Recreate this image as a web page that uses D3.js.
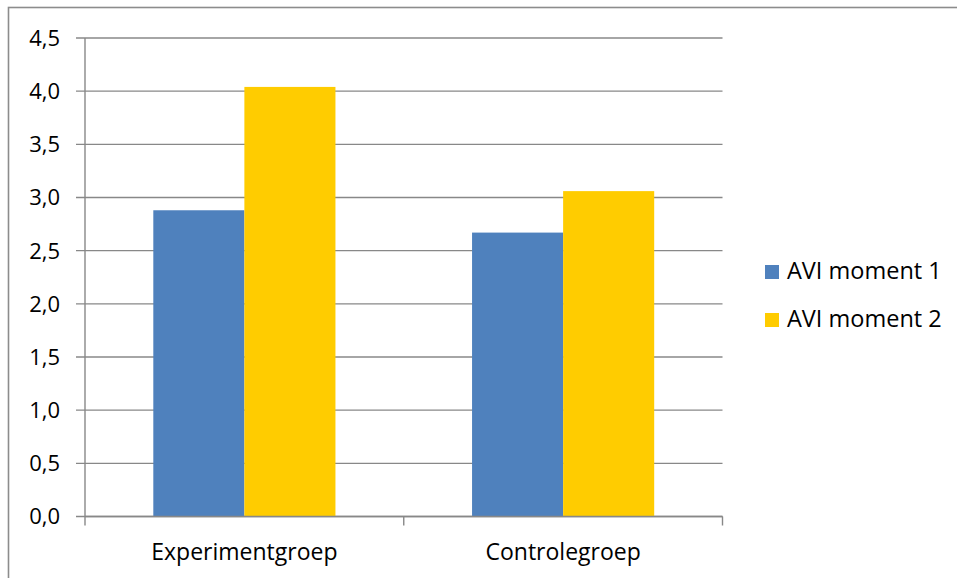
<!DOCTYPE html>
<html>
<head>
<meta charset="utf-8">
<script src="https://cdn.jsdelivr.net/npm/d3@7"></script>
<style>
  html, body { margin: 0; padding: 0; background: #fff; }
  svg { display: block; }
  text { font-family: "Open Sans", "Noto Sans", sans-serif; fill: #000; }
</style>
</head>
<body>
<svg id="chart" width="957" height="578"></svg>
<script>
// Reading scores per group, measured at two moments
const categories = ["Experimentgroep", "Controlegroep"];
const seriesNames = ["AVI moment 1", "AVI moment 2"];
const moment1 = [2.88, 2.67];
const moment2 = [4.04, 3.06];
const yTicks = [0, 0.5, 1, 1.5, 2, 2.5, 3, 3.5, 4, 4.5];
const colors = ["#4F81BD", "#FFCC00"];

const seriesValues = [moment1, moment2];
const rows = categories.map((c, i) => ({
  category: c,
  values: seriesNames.map((s, j) => ({ series: s, value: seriesValues[j][i], idx: j }))
}));

const svg = d3.select("#chart");
const plot = { left: 85, right: 722.5, top: 38, bottom: 516.5 };
const gridColor = "#888888";

// Outer chart frame
svg.append("rect")
  .attr("x", 8.5).attr("y", 7.5)
  .attr("width", 960).attr("height", 600)
  .attr("fill", "none")
  .attr("stroke", "#8c8c8c")
  .attr("stroke-width", 1.6);

const y = d3.scaleLinear().domain([0, 4.5]).range([plot.bottom, plot.top]);
const x0 = d3.scaleBand().domain(categories).range([plot.left, plot.right]).padding(0);
const bw = x0.bandwidth();
const x1 = d3.scaleBand().domain(seriesNames)
  .range([bw * 0.75 / 3.5, bw * 2.75 / 3.5]).padding(0);

// Horizontal gridlines with left tick stubs
svg.append("g").selectAll("line")
  .data(yTicks)
  .join("line")
  .attr("x1", plot.left - 9)
  .attr("x2", plot.right)
  .attr("y1", d => y(d))
  .attr("y2", d => y(d))
  .attr("stroke", gridColor)
  .attr("stroke-width", 1.4);

// Y tick labels
const fmt = d => d3.format(".1f")(d).replace(".", ",");
svg.append("g").selectAll("text")
  .data(yTicks)
  .join("text")
  .attr("x", 60)
  .attr("y", d => y(d))
  .attr("dy", "0.36em")
  .attr("text-anchor", "end")
  .attr("font-size", 22)
  .text(fmt);

// Bars
const groups = svg.append("g").selectAll("g")
  .data(rows)
  .join("g")
  .attr("transform", d => `translate(${x0(d.category)},0)`);

groups.selectAll("rect")
  .data(d => d.values)
  .join("rect")
  .attr("x", d => x1(d.series))
  .attr("width", x1.bandwidth())
  .attr("y", d => y(d.value))
  .attr("height", d => y(0) - y(d.value))
  .attr("fill", d => colors[d.idx]);

// Y axis line
svg.append("line")
  .attr("x1", plot.left).attr("x2", plot.left)
  .attr("y1", plot.top).attr("y2", plot.bottom)
  .attr("stroke", gridColor).attr("stroke-width", 1.4);

// X axis line and category boundary ticks
svg.append("line")
  .attr("x1", plot.left).attr("x2", plot.right)
  .attr("y1", plot.bottom).attr("y2", plot.bottom)
  .attr("stroke", gridColor).attr("stroke-width", 1.4);

const boundaries = categories.map(c => x0(c)).concat([x0(categories[categories.length - 1]) + bw]);
svg.append("g").selectAll("line")
  .data(boundaries)
  .join("line")
  .attr("x1", d => d).attr("x2", d => d)
  .attr("y1", plot.bottom).attr("y2", plot.bottom + 9)
  .attr("stroke", gridColor).attr("stroke-width", 1.4);

// Category labels
svg.append("g").selectAll("text")
  .data(categories)
  .join("text")
  .attr("x", d => x0(d) + bw / 2)
  .attr("y", 559.5)
  .attr("text-anchor", "middle")
  .attr("font-size", 23)
  .text(d => d);

// Legend
const legend = svg.append("g").selectAll("g")
  .data(seriesNames)
  .join("g")
  .attr("transform", (d, i) => `translate(765,${265 + i * 48})`);

legend.append("rect")
  .attr("width", 14).attr("height", 14)
  .attr("fill", (d, i) => colors[i]);

legend.append("text")
  .attr("x", 22)
  .attr("y", 14)
  .attr("font-size", 23.5)
  .text(d => d);
</script>
</body>
</html>
